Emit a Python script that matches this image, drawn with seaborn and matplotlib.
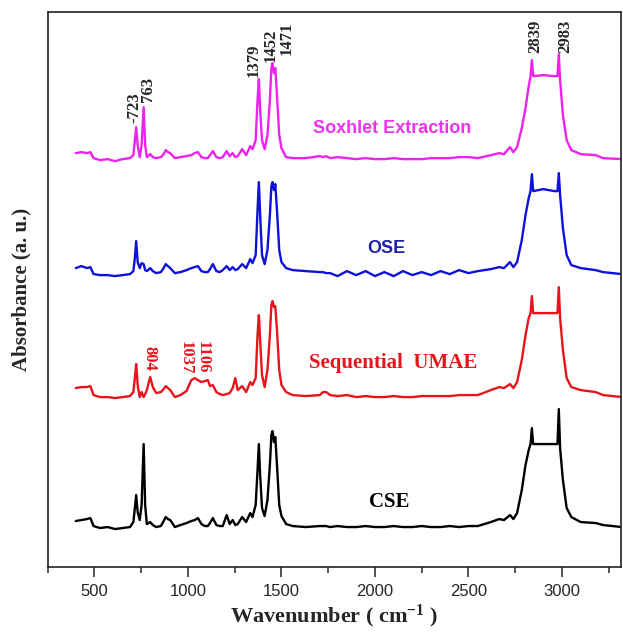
import numpy as np
import pandas as pd
import seaborn as sns
from matplotlib import pyplot as plt
from matplotlib.ticker import MultipleLocator

# wavenumber grid shared by the four spectra (cm-1)
wavenumber = [400, 430, 460, 478, 495, 530, 570, 610, 650, 690, 708, 716, 723, 731, 742, 752, 763, 771, 780,
              798, 812, 830, 855, 870, 881, 893, 905, 930, 960, 992, 1018, 1036, 1053, 1072, 1090, 1106, 1118,
              1133, 1152, 1170, 1186, 1207, 1223, 1239, 1253, 1266, 1290, 1311, 1333, 1345, 1362, 1372, 1379,
              1386, 1396, 1410, 1425, 1438, 1446, 1452, 1460, 1467, 1476, 1488, 1500, 1525, 1560, 1630, 1705,
              1722, 1739, 1760, 1800, 1850, 1900, 1950, 2000, 2050, 2100, 2150, 2200, 2250, 2300, 2350, 2400,
              2450, 2500, 2550, 2620, 2664, 2690, 2722, 2740,
              2760, 2785, 2805, 2822, 2832, 2839, 2846, 2900, 2960, 2976, 2983, 2990, 3005, 3025, 3050, 3100,
              3180, 3220, 3320]

# absorbance (a. u., traces already stacked as in the figure)
soxhlet = [414, 415, 414, 415, 409, 407, 408, 406, 408, 409, 412, 427, 440, 422, 410, 422, 460, 422, 410,
           413, 410, 409, 410, 413, 417, 415, 414, 409, 410, 411, 412, 414, 415, 410, 409, 409, 412,
           416, 410, 409, 410, 416, 411, 414, 410, 411, 418, 412, 421, 418, 427, 467, 488,
           457, 427, 418, 432, 467, 499, 504, 494, 499, 472, 432, 419, 410, 409, 409, 411,
           410, 411, 409, 410, 409, 408, 409, 408, 408, 409, 408, 408, 408, 409, 409, 409,
           410, 410, 409, 412, 414, 413, 420, 415,
           420, 439, 459, 481, 491, 507, 491, 492, 491, 491, 513, 487, 452, 427, 417, 413,
           412, 409, 408]

ose = [299, 301, 299, 300, 293, 292, 292, 291, 292, 293, 296, 309, 326, 305, 299, 304, 303, 297, 296,
       299, 296, 294, 295, 299, 303, 301, 299, 294, 295, 297, 299, 300, 301, 296, 295, 295, 298,
       303, 296, 295, 297, 301, 297, 300, 297, 298, 303, 299, 308, 304, 312, 357, 385,
       352, 312, 303, 317, 352, 381, 385, 377, 383, 357, 317, 305, 299, 297, 296, 295,
       295, 294, 294, 291, 296, 292, 296, 291, 295, 291, 296, 292, 295, 292, 296, 293,
       297, 294, 296, 298, 300, 299, 305, 300,
       305, 327, 352, 369, 376, 393, 376, 378, 376, 376, 394, 372, 339, 312, 302, 299,
       297, 295, 293]

umae = [179, 180, 180, 181, 172, 170, 170, 169, 170, 171, 175, 189, 203, 182, 170, 175, 170, 173, 177,
        190, 180, 174, 175, 178, 181, 179, 177, 170, 172, 176, 187, 189, 187, 185, 186, 187, 181,
        182, 175, 173, 172, 173, 174, 179, 189, 177, 181, 175, 185, 182, 189, 232, 252,
        227, 192, 180, 197, 232, 262, 266, 260, 261, 237, 197, 182, 175, 172, 171, 172,
        175, 175, 172, 171, 172, 170, 171, 170, 170, 171, 170, 170, 171, 171, 171, 171,
        172, 172, 172, 177, 180, 179, 183, 179,
        185, 207, 232, 249, 254, 271, 254, 254, 254, 254, 280, 249, 217, 189, 180, 177,
        175, 172, 170]

cse = [46, 47, 48, 49, 41, 39, 40, 38, 39, 40, 45, 59, 72, 55, 47, 62, 123, 62, 43,
       45, 42, 40, 41, 46, 50, 48, 47, 40, 42, 44, 46, 47, 49, 43, 41, 41, 44,
       49, 42, 41, 41, 52, 43, 47, 42, 43, 50, 45, 54, 50, 62, 97, 123,
       92, 59, 51, 67, 102, 132, 136, 125, 130, 102, 62, 51, 43, 41, 40, 41,
       41, 41, 40, 41, 40, 40, 41, 40, 40, 41, 40, 40, 41, 40, 40, 41,
       40, 41, 41, 45, 48, 47, 52, 48,
       54, 77, 102, 117, 123, 139, 123, 123, 123, 123, 158, 119, 87, 59, 50, 45,
       44, 42, 40]

samples = ['Soxhlet Extraction', 'OSE', 'Sequential UMAE', 'CSE']
line_colors = ['#ee22ee', '#1010dd', '#e8141c', '#000000']

df = pd.concat([pd.DataFrame({'wavenumber': wavenumber, 'absorbance': y, 'sample': s})
                for s, y in zip(samples, [soxhlet, ose, umae, cse])])

sns.set_style('ticks')
plt.rcParams['font.family'] = ['Liberation Sans', 'DejaVu Sans']
plt.rcParams['mathtext.fontset'] = 'custom'
plt.rcParams['mathtext.rm'] = 'Liberation Serif:bold'
plt.rcParams['mathtext.default'] = 'rm'

fig = plt.figure(figsize=(6.23, 6.4), dpi=100)
ax = fig.add_axes([0.0766, 0.114, 0.92, 0.867])

sns.lineplot(data=df, x='wavenumber', y='absorbance', hue='sample', palette=line_colors,
             hue_order=samples, sort=False, estimator=None, linewidth=1.7, legend=False, ax=ax)

ax.set_xlim(250, 3315)
ax.set_ylim(0, 555)
ax.xaxis.set_major_locator(MultipleLocator(500))
ax.xaxis.set_minor_locator(MultipleLocator(250))
ax.tick_params(axis='x', which='major', direction='out', length=7, width=1.1, labelsize=12, pad=5)
ax.tick_params(axis='x', which='minor', direction='out', length=4, width=1.1)
ax.set_yticks([])
for sp in ax.spines.values():
    sp.set_linewidth(1.2)
    sp.set_color('#222222')

serif = ['Liberation Serif', 'DejaVu Serif']
ax.set_xlabel(r'Wavenumber ( cm$^{-1}$ )', family=serif, fontweight='bold', fontsize=16, labelpad=3)
ax.set_ylabel('Absorbance (a. u.)', family=serif, fontweight='bold', fontsize=15, labelpad=12)

# sample names
ax.text(2092, 439, 'Soxhlet Extraction', color='#ee33ee', fontsize=13, fontweight='bold', ha='center', va='center')
ax.text(2060, 319, 'OSE', color='#1e1eb0', fontsize=13, fontweight='bold', ha='center', va='center')
ax.text(2097, 204, 'Sequential  UMAE', color='#e8141c', fontsize=15, fontweight='bold', family=serif,
        ha='center', va='center')
ax.text(2077, 65, 'CSE', color='black', fontsize=15, fontweight='bold', family=serif, ha='center', va='center')

# peak labels
peak_labels = [('-723', 711, 444), ('763', 785, 465), ('1379', 1351, 490), ('1452', 1442, 505),
               ('1471', 1528, 512), ('2839', 2856, 514), ('2983', 3016, 514)]
for txt, x, y in peak_labels:
    ax.text(x, y, txt, rotation=90, ha='center', va='bottom', fontsize=12, fontweight='bold', family=serif)
for txt, x, y in [('804', 796, 221), ('1037', 988, 226), ('1106', 1076, 226)]:
    ax.text(x, y, txt, rotation=270, ha='center', va='top', fontsize=12, fontweight='bold', family=serif,
            color='#e8141c')

fig.savefig('out.png', dpi=100)
